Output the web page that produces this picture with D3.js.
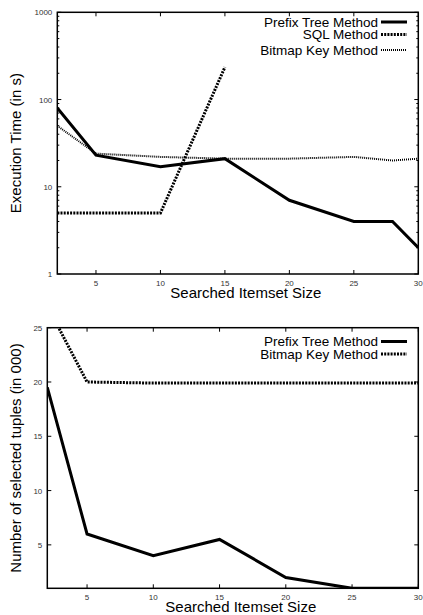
<!DOCTYPE html>
<html>
<head>
<meta charset="utf-8">
<script src="https://cdn.jsdelivr.net/npm/d3@7"></script>
<style>
  body { margin: 0; background: #fff; }
  svg { display: block; }
  text { font-family: "Liberation Sans", Arial, Helvetica, sans-serif; }
</style>
</head>
<body>
<div id="chart"></div>
<script>
"use strict"

// x values shared by both panels
const itemsetSizes = [2, 5, 10, 15, 20, 25, 28, 30];
const xTicks = [5, 10, 15, 20, 25, 30];

// top panel: execution time (s), log scale
const prefixTime = [80, 23, 17, 21, 7, 4, 4, 2];
const sqlSizes = [2, 5, 10, 15];
const sqlTime = [5, 5, 5, 235];
const bitmapTime = [50, 24, 22, 21, 21, 22, 20, 21];
const timeTicks = [1, 10, 100, 1000];

// bottom panel: number of selected tuples (in 000)
const tupleSizes = [2, 5, 10, 15, 20, 25, 30];
const prefixTuples = [19.5, 6, 4, 5.5, 2, 1, 1];
const bitmapTuples = [27, 20, 19.9, 19.9, 19.9, 19.9, 19.9];
const tupleTicks = [5, 10, 15, 20, 25];

const W = 423, H = 615;

const svg = d3.select('#chart')
  .append('svg')
  .attr('width', W)
  .attr('height', H);

function drawPanel({id, left, top, right, bottom, y, yTicks, minor, series, legend, yTitle, xTitleY}) {
  const x = d3.scaleLinear().domain([2, 30]).range([left, right]);
  y.range([bottom, top]);

  const g = svg.append('g');

  g.append('clipPath').attr('id', id)
    .append('rect')
      .attr('x', left).attr('y', top)
      .attr('width', right - left).attr('height', bottom - top);

  // tick marks, inward on all four sides
  const ticks = g.append('g').attr('stroke', '#000').attr('stroke-width', 1);
  xTicks.forEach((t) => {
    ticks.append('line').attr('x1', x(t)).attr('x2', x(t)).attr('y1', bottom).attr('y2', bottom - 4);
    ticks.append('line').attr('x1', x(t)).attr('x2', x(t)).attr('y1', top).attr('y2', top + 4);
  });
  yTicks.forEach((t) => {
    ticks.append('line').attr('x1', left).attr('x2', left + 4).attr('y1', y(t)).attr('y2', y(t));
    ticks.append('line').attr('x1', right).attr('x2', right - 4).attr('y1', y(t)).attr('y2', y(t));
  });
  minor.forEach((t) => {
    ticks.append('line').attr('x1', left).attr('x2', left + 2).attr('y1', y(t)).attr('y2', y(t));
    ticks.append('line').attr('x1', right).attr('x2', right - 2).attr('y1', y(t)).attr('y2', y(t));
  });

  // tick labels
  g.selectAll('.xl')
    .data(xTicks)
    .enter()
      .append('text')
        .attr('x', (d) => x(d))
        .attr('y', bottom + 12)
        .attr('text-anchor', 'middle')
        .attr('font-size', 8)
        .attr('fill', '#333')
        .text((d) => d);

  g.selectAll('.yl')
    .data(yTicks)
    .enter()
      .append('text')
        .attr('x', left - 5)
        .attr('y', (d) => y(d) + 3)
        .attr('text-anchor', 'end')
        .attr('font-size', 8)
        .attr('fill', '#333')
        .text((d) => d);

  // series
  const lines = g.append('g').attr('clip-path', `url(#${id})`);
  series.forEach((s) => {
    const line = d3.line()
      .x((d, i) => x(s.xs[i]))
      .y((d) => y(d));
    lines.append('path')
      .datum(s.values)
      .attr('d', line)
      .attr('fill', 'none')
      .attr('stroke', '#000')
      .attr('stroke-width', s.width)
      .attr('stroke-dasharray', s.dash)
      .attr('stroke-linejoin', 'miter');
  });

  // frame
  g.append('rect')
    .attr('x', left).attr('y', top)
    .attr('width', right - left).attr('height', bottom - top)
    .attr('fill', 'none')
    .attr('stroke', '#000')
    .attr('stroke-width', 1.5);

  // legend
  legend.forEach((row, i) => {
    const ly = row.y;
    g.append('text')
      .attr('x', 378)
      .attr('y', ly + 4.5)
      .attr('text-anchor', 'end')
      .attr('font-size', 13.5)
      .text(row.s.name);
    g.append('line')
      .attr('x1', 381).attr('x2', 407)
      .attr('y1', ly).attr('y2', ly)
      .attr('stroke', '#000')
      .attr('stroke-width', row.s.width)
      .attr('stroke-dasharray', row.s.dash);
  });

  // axis titles
  g.append('text')
    .attr('x', (left + right) / 2 + 8)
    .attr('y', xTitleY)
    .attr('text-anchor', 'middle')
    .attr('font-size', 15)
    .text('Searched Itemset Size');

  g.append('text')
    .attr('transform', `translate(21,${(top + bottom) / 2}) rotate(-90)`)
    .attr('text-anchor', 'middle')
    .attr('font-size', 15)
    .text(yTitle);
}

// minor ticks for log axis
const logMinor = [];
[1, 10, 100].forEach((d) => {
  for (let k = 2; k <= 9; k++) logMinor.push(d * k);
});

const prefixTop = {name: 'Prefix Tree Method', xs: itemsetSizes, values: prefixTime, width: 3, dash: null};
const sqlTop = {name: 'SQL Method', xs: sqlSizes, values: sqlTime, width: 3, dash: '2,1.2'};
const bitmapTop = {name: 'Bitmap Key Method', xs: itemsetSizes, values: bitmapTime, width: 2, dash: '1,1'};

drawPanel({
  id: 'clipTop',
  left: 57.3, top: 12.3, right: 418.3, bottom: 274,
  y: d3.scaleLog().domain([1, 1000]),
  yTicks: timeTicks,
  minor: logMinor,
  series: [prefixTop, sqlTop, bitmapTop],
  legend: [{s: prefixTop, y: 22}, {s: sqlTop, y: 34.5}, {s: bitmapTop, y: 50}],
  yTitle: 'Execution Time (in s)',
  xTitleY: 297.5
});

const prefixBottom = {name: 'Prefix Tree Method', xs: tupleSizes, values: prefixTuples, width: 3, dash: null};
const bitmapBottom = {name: 'Bitmap Key Method', xs: tupleSizes, values: bitmapTuples, width: 3, dash: '2,1.2'};

drawPanel({
  id: 'clipBottom',
  left: 47.3, top: 327.7, right: 418.3, bottom: 588.3,
  y: d3.scaleLinear().domain([1, 25]),
  yTicks: tupleTicks,
  minor: [],
  series: [prefixBottom, bitmapBottom],
  legend: [{s: prefixBottom, y: 341.5}, {s: bitmapBottom, y: 354}],
  yTitle: 'Number of selected tuples (in 000)',
  xTitleY: 612
});
</script>
</body>
</html>
